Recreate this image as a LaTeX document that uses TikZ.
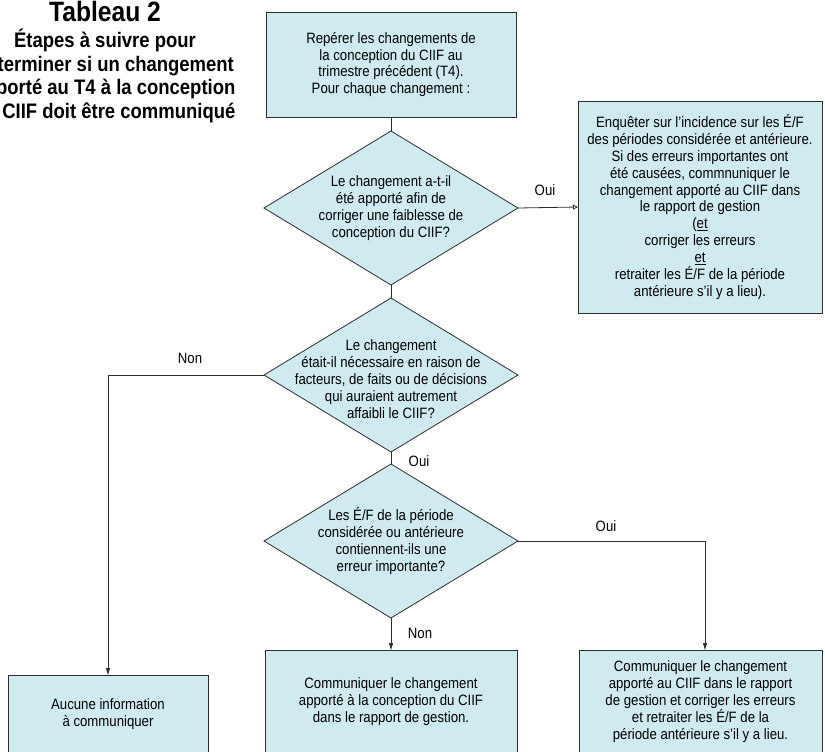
\documentclass[tikz,border=0pt]{standalone}
\usepackage{fontspec}
\setmainfont{Liberation Sans}[FakeStretch=0.88]
\usetikzlibrary{shapes.geometric,arrows.meta,calc}
\definecolor{boxfill}{RGB}{207,235,240}
\definecolor{linecol}{RGB}{45,45,45}
\newcommand{\myBody}{\fontsize{15}{16.9}\selectfont}
\newcommand{\myTitle}{\fontsize{28}{30}\selectfont\bfseries}
\newcommand{\mySub}{\fontsize{21}{23}\selectfont\bfseries}
\begin{document}
\begin{tikzpicture}[x=1pt,y=-1pt,
  every node/.style={outer sep=0pt},
  box/.style={draw=linecol, line width=0.8pt, fill=boxfill, inner sep=0pt, align=center, font=\myBody},
  dia/.style={diamond, draw=linecol, line width=0.8pt, fill=boxfill, inner sep=0pt},
  txt/.style={align=center, font=\myBody, inner sep=0pt},
  lab/.style={font=\myBody, inner sep=0pt},
  ttl/.style={font=\myTitle, inner sep=0pt, anchor=base},
  sub/.style={font=\mySub, inner sep=0pt, anchor=base},
  conn/.style={draw=linecol, line width=0.8pt},
  arr/.style={conn, -{Triangle[length=7pt,width=4pt]}},
  oarr/.style={conn, -{Triangle[open,length=5pt,width=5pt]}}
]
\useasboundingbox (0,0) rectangle (825,752);
\clip (0,0) rectangle (825,752);

% title
\node[ttl] (tl1) at (105,22) {Tableau 2};
\node[sub] (tl2) at (105,48) {Étapes à suivre pour};
\node[sub] (tl3) at (105,71.5) {déterminer si un changement};
\node[sub] (tl4) at (105,95) {apporté au T4 à la conception};
\node[sub] (tl5) at (105,118) {du CIIF doit être communiqué};

% top box
\node[box, minimum width=250pt, minimum height=105pt] (b1) at (391,64.5)
  {Repérer les changements de\\la conception du CIIF au\\trimestre précédent (T4).\\Pour chaque changement :};

% diamonds
\node[dia, minimum width=254pt, minimum height=154pt] (d1) at (391,208) {};
\node[txt] (t1) at (391,208) {Le changement a-t-il\\été apporté afin de\\corriger une faiblesse de\\conception du CIIF?};

\node[dia, minimum width=254pt, minimum height=154pt] (d2) at (391,375) {};
\node[txt] (t2) at (391,379) {Le changement\\était-il nécessaire en raison de\\facteurs, de faits ou de décisions\\qui auraient autrement\\affaibli le CIIF?};

\node[dia, minimum width=254pt, minimum height=154pt] (d3) at (391,541) {};
\node[txt] (t3) at (391,541) {Les É/F de la période\\considérée ou antérieure\\contiennent-ils une\\erreur importante?};

% right top box
\node[box, minimum width=244pt, minimum height=212pt] (r1) at (700,207)
  {Enquêter sur l’incidence sur les É/F\\des périodes considérée et antérieure.\\Si des erreurs importantes ont\\été causées, commnuniquer le\\changement apporté au CIIF dans\\le rapport de gestion\\(\underline{et}\\corriger les erreurs\\\underline{et}\\retraiter les É/F de la période\\antérieure s’il y a lieu).};

% bottom boxes
\node[box, minimum width=200pt, minimum height=78pt] (a1) at (108,714)
  {Aucune information\\à communiquer};
\node[box, minimum width=252pt, minimum height=103pt] (m1) at (391,701.5)
  {Communiquer le changement\\apporté à la conception du CIIF\\dans le rapport de gestion.};
\node[box, minimum width=243pt, minimum height=103pt] (c1) at (700.5,701.5)
  {Communiquer le changement\\apporté au CIIF dans le rapport\\de gestion et corriger les erreurs\\et retraiter les É/F de la\\période antérieure s’il y a lieu.};
\coordinate (c1in) at (705,650);

% connectors
\draw[conn] (b1.south) -- (d1.north);
\draw[oarr] (d1.east) -- (r1.west);
\draw[conn] (d1.south) -- (d2.north);
\draw[arr] (d2.west) -| (a1.north);
\draw[conn] (d2.south) -- (d3.north);
\draw[arr] (d3.south) -- (m1.north);
\draw[arr] (d3.east) -| (c1in);

% labels
\node[lab] (l1) at (545,190) {Oui};
\node[lab] (l2) at (190,358) {Non};
\node[lab] (l3) at (419,461) {Oui};
\node[lab] (l4) at (420,633) {Non};
\node[lab] (l5) at (606,526) {Oui};
\end{tikzpicture}
\end{document}
